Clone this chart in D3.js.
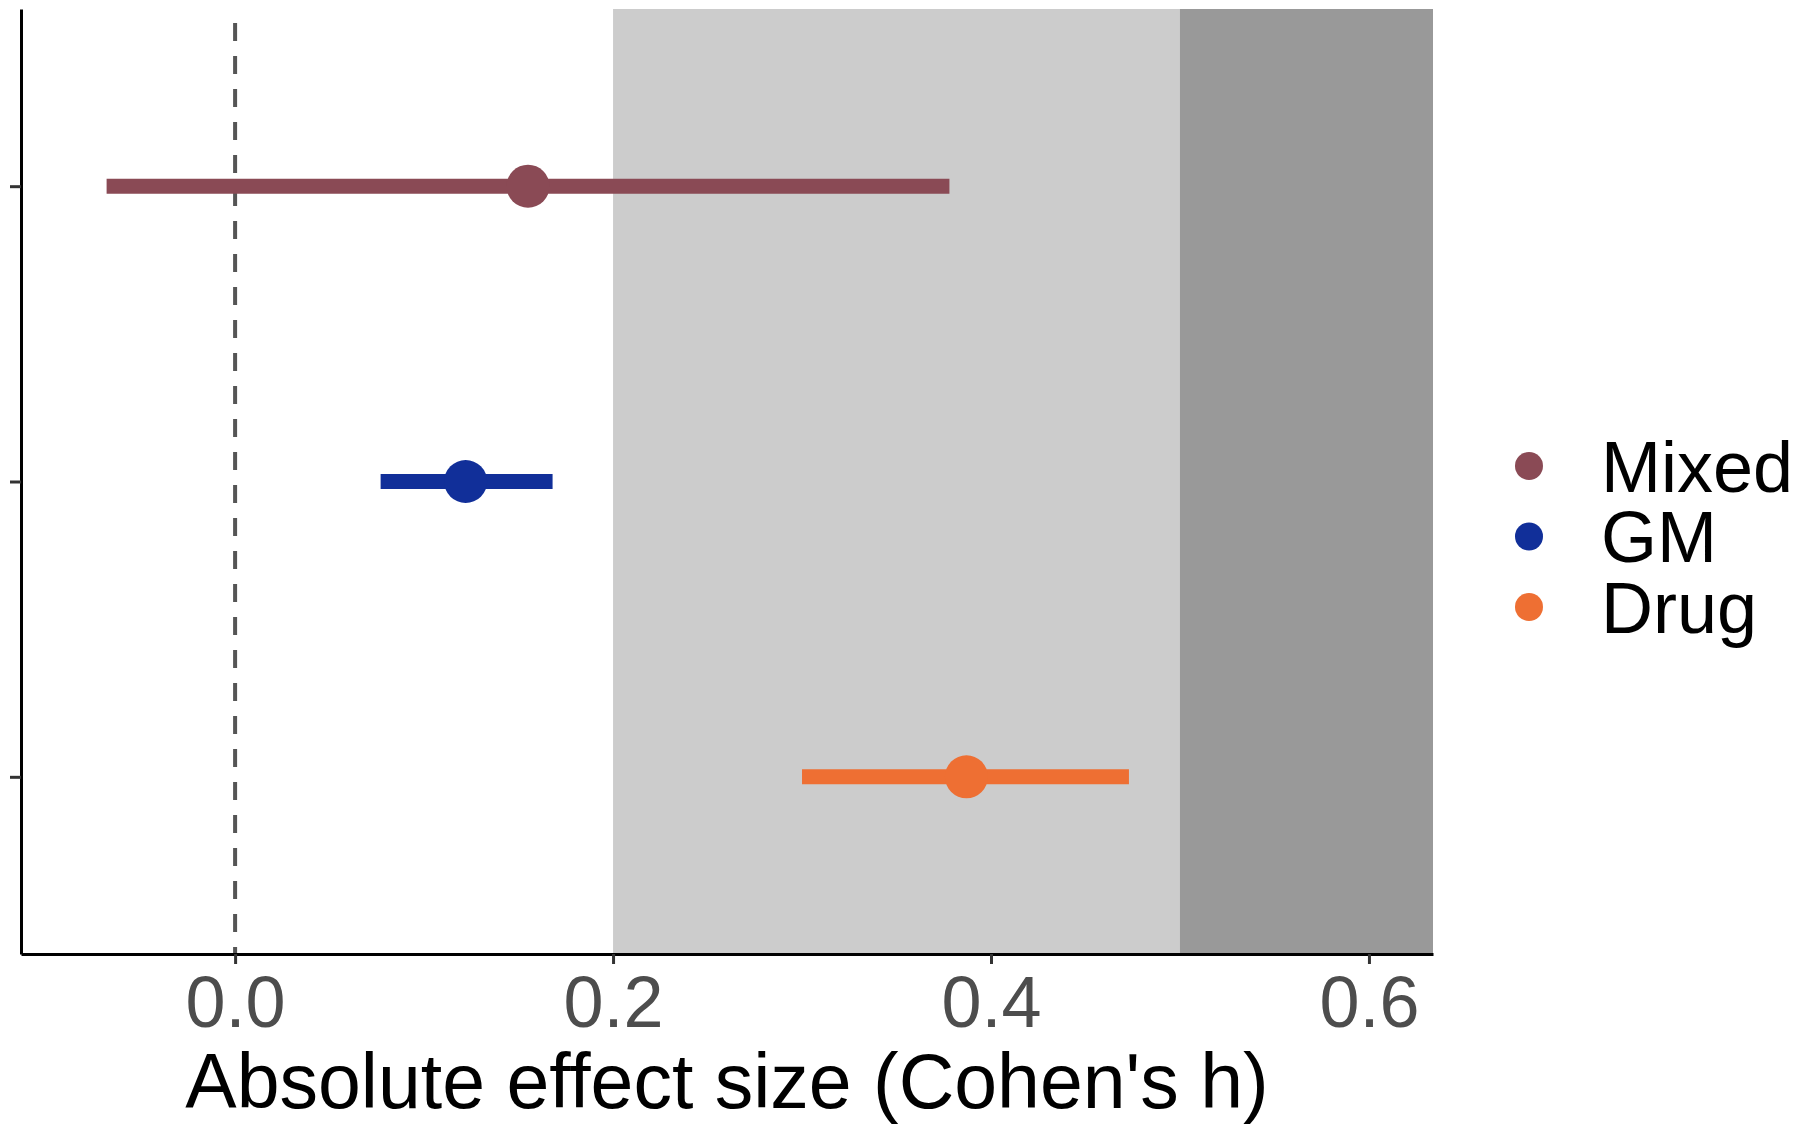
<!DOCTYPE html>
<html>
<head>
<meta charset="utf-8">
<script src="https://cdn.jsdelivr.net/npm/d3@7"></script>
<style>
  body { margin: 0; background: #fff; }
  text { font-family: "Liberation Sans", Arial, sans-serif; }
</style>
</head>
<body>
<div id="chart"></div>
<script>
// groups, bottom to top in the plot
var groups = ["Drug", "GM", "Mixed"];
// legend order
var legendOrder = ["Mixed", "GM", "Drug"];
var estimates = [0.387, 0.122, 0.155];
var lowerCI = [0.300, 0.077, -0.068];
var upperCI = [0.473, 0.168, 0.378];
var groupColors = ["#ee6f33", "#112f99", "#8a4a55"];
var xTicks = [0.0, 0.2, 0.4, 0.6];
// effect-size bands (small / medium)
var bandStarts = [0.2, 0.5];
var bandFills = ["#cccccc", "#999999"];

var W = 1809, H = 1134
var margin = {left: 21, right: 376, top: 9, bottom: 180}
var innerW = W - margin.left - margin.right
var innerH = H - margin.top - margin.bottom

var svg = d3.select("#chart").append("svg")
  .attr("width", W)
  .attr("height", H)

var g = svg.append("g")
  .attr("transform", "translate(" + margin.left + "," + margin.top + ")")

var x = d3.scaleLinear().domain([-0.1133, 0.6339]).range([0, innerW])

// discrete axis with ggplot-like 0.6 expansion
var y = d3.scaleLinear().domain([0.4, 3.6]).range([innerH, 0])
var yPos = function (i) { return y(i + 1) }

var color = d3.scaleOrdinal().domain(groups).range(groupColors)

// shaded bands
g.selectAll("rect.band")
  .data(bandStarts)
  .enter()
  .append("rect")
  .attr("class", "band")
  .attr("x", function (d) { return x(d) })
  .attr("y", 0)
  .attr("width", function (d, i) {
    var end = i + 1 < bandStarts.length ? x(bandStarts[i + 1]) : innerW
    return end - x(d)
  })
  .attr("height", innerH)
  .attr("fill", function (d, i) { return bandFills[i] })

// zero reference line
g.append("line")
  .attr("x1", x(0)).attr("x2", x(0))
  .attr("y1", 0).attr("y2", innerH)
  .attr("stroke", "#555")
  .attr("stroke-width", 4)
  .attr("stroke-dasharray", "18,15")
  .attr("stroke-dashoffset", 19)

// confidence intervals
g.selectAll("line.ci")
  .data(groups)
  .enter()
  .append("line")
  .attr("class", "ci")
  .attr("x1", function (d, i) { return x(lowerCI[i]) })
  .attr("x2", function (d, i) { return x(upperCI[i]) })
  .attr("y1", function (d, i) { return yPos(i) })
  .attr("y2", function (d, i) { return yPos(i) })
  .attr("stroke", function (d) { return color(d) })
  .attr("stroke-width", 15)

// point estimates
g.selectAll("circle.est")
  .data(groups)
  .enter()
  .append("circle")
  .attr("class", "est")
  .attr("cx", function (d, i) { return x(estimates[i]) })
  .attr("cy", function (d, i) { return yPos(i) })
  .attr("r", 21.5)
  .attr("fill", function (d) { return color(d) })

// x axis
var xAxis = g.append("g")
  .attr("transform", "translate(0," + innerH + ")")
  .call(d3.axisBottom(x).tickValues(xTicks).tickFormat(d3.format(".1f"))
    .tickSize(10).tickSizeOuter(0).tickPadding(12))
xAxis.select(".domain").attr("stroke", "#000").attr("stroke-width", 3)
xAxis.selectAll(".tick line").attr("stroke", "#333").attr("stroke-width", 3)
xAxis.selectAll(".tick text")
  .attr("fill", "#4d4d4d")
  .style("font-size", "72px")
  .style("font-family", "'Liberation Sans', Arial, sans-serif")

// y axis (no labels)
var yAxis = g.append("g")
  .call(d3.axisLeft(y).tickValues([1, 2, 3]).tickFormat("").tickSize(11).tickSizeOuter(0))
yAxis.select(".domain").attr("stroke", "#000").attr("stroke-width", 3)
yAxis.selectAll(".tick line").attr("stroke", "#333").attr("stroke-width", 3)

// x axis title
svg.append("text")
  .attr("x", margin.left + innerW / 2)
  .attr("y", 1108)
  .attr("text-anchor", "middle")
  .style("font-size", "77px")
  .attr("fill", "#000")
  .text("Absolute effect size (Cohen's h)")

// legend
var legend = svg.append("g").attr("transform", "translate(1529,466)")
var items = legend.selectAll("g.item")
  .data(legendOrder)
  .enter()
  .append("g")
  .attr("class", "item")
  .attr("transform", function (d, i) { return "translate(0," + i * 70.5 + ")" })
items.append("circle")
  .attr("r", 14)
  .attr("fill", function (d) { return color(d) })
items.append("text")
  .attr("x", 72)
  .attr("dy", "0.36em")
  .style("font-size", "72px")
  .attr("fill", "#000")
  .text(function (d) { return d })
</script>
</body>
</html>
